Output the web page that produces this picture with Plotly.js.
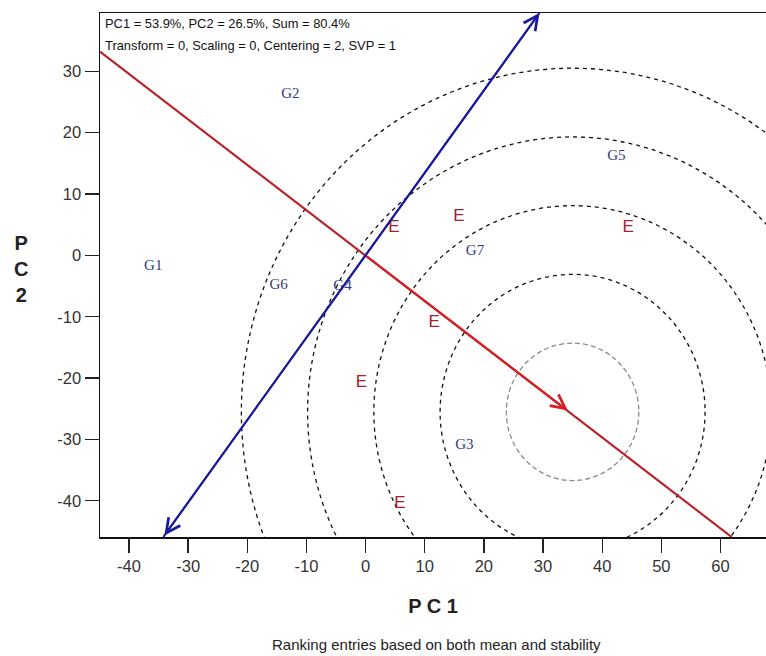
<!DOCTYPE html>
<html>
<head>
<meta charset="utf-8">
<script src="https://cdn.plot.ly/plotly-3.0.1.min.js"></script>
<style>html,body{margin:0;padding:0;background:#fff;overflow:hidden;}#chart{width:766px;height:656px;}</style>
</head>
<body>
<div id="chart"></div>
<script>
// Genotype labels (PC1, PC2)
const genoNames = ["G1", "G2", "G3", "G4", "G5", "G6", "G7"];
const genoPC1 = [-35.9, -12.7, 16.7, -3.9, 42.4, -14.7, 18.5];
const genoPC2 = [-1.8, 26.2, -31.0, -5.1, 16.1, -4.9, 0.7];

// Environment labels (PC1, PC2)
const envNames = ["E", "E", "E", "E", "E", "E"];
const envPC1 = [4.8, 15.8, 11.6, -0.7, 5.8, 44.4];
const envPC2 = [4.5, 6.3, -10.9, -20.7, -40.5, 4.5];

// Average environment axis (red) and its perpendicular (blue)
const aeaX = [-44.9, 61.9];
const aeaY = [33.2, -45.9];
const aeaTip = [34.2, -25.3];
const perpX = [-34.2, 29.4];
const perpY = [-45.9, 39.5];

// Concentric rings around the ideal point
const ringCenter = [35.0, -25.5];
const ringRadii = [11.2, 22.4, 33.6, 44.8, 56.0];

// Axis ticks
const xTicks = [-40, -30, -20, -10, 0, 10, 20, 30, 40, 50, 60];
const yTicks = [-40, -30, -20, -10, 0, 10, 20, 30];

// Header lines
const headerLines = ["PC1 = 53.9%, PC2 = 26.5%, Sum = 80.4%", "Transform = 0, Scaling = 0, Centering = 2, SVP = 1"];

const shapes = ringRadii.map((r, i) => ({
  type: "circle", xref: "x", yref: "y", layer: "below",
  x0: ringCenter[0] - r, x1: ringCenter[0] + r,
  y0: ringCenter[1] - r, y1: ringCenter[1] + r,
  line: { color: i === 0 ? "#8a8a8a" : "#111111", width: 1.3, dash: i === 0 ? "5px,3px" : "4px,4px" }
}));

const traces = [
  { x: aeaX, y: aeaY, mode: "lines", line: { color: "#b8242a", width: 2.2 }, hoverinfo: "skip" },
  { x: perpX, y: perpY, mode: "lines", line: { color: "#1a1a9e", width: 2 }, hoverinfo: "skip" },
  { x: genoPC1, y: genoPC2, text: genoNames, mode: "text",
    textfont: { family: "Liberation Serif, Times New Roman, serif", size: 15, color: "#2f3a80" } },
  { x: envPC1, y: envPC2, text: envNames, mode: "text",
    textfont: { family: "Liberation Sans, Arial, sans-serif", size: 17, color: "#a3202e" } }
];

const headerAnn = headerLines.map((t, i) => ({
  xref: "paper", yref: "paper", x: 0.004, y: 1 - (11 + 21 * i) / 524, xanchor: "left", yanchor: "middle",
  align: "left", showarrow: false, text: t, font: { size: 12.9, color: "#111" }
}));

const layout = {
  width: 766, height: 656,
  margin: { l: 100, r: 0, t: 13, b: 119 },
  paper_bgcolor: "#ffffff", plot_bgcolor: "#ffffff",
  showlegend: false,
  font: { family: "Liberation Sans, Arial, sans-serif", color: "#222" },
  xaxis: {
    range: [-44.9, 67.7], tickvals: xTicks, ticktext: xTicks.map(String),
    showgrid: false, zeroline: false, showline: true, mirror: true,
    linecolor: "#111", linewidth: 1.5, ticks: "outside", ticklen: 14, tickwidth: 1.3, tickcolor: "#222",
    tickfont: { size: 16.5, color: "#333" },
    title: { text: "<b>P C 1</b>", font: { size: 20, color: "#222" }, standoff: 24 }
  },
  yaxis: {
    range: [-45.9, 39.5], tickvals: yTicks, ticktext: yTicks.map(String),
    showgrid: false, zeroline: false, showline: true, mirror: false,
    linecolor: "#111", linewidth: 1.5, ticks: "outside", ticklen: 14, tickwidth: 1.3, tickcolor: "#222",
    tickfont: { size: 16.5, color: "#333" }
  },
  shapes: shapes,
  annotations: [
    { xref: "x", yref: "y", axref: "x", ayref: "y", x: aeaTip[0], y: aeaTip[1], ax: 0, ay: 0,
      text: "", showarrow: true, arrowhead: 5, arrowsize: 1.4, arrowwidth: 2, arrowcolor: "#d81e24" },
    { xref: "x", yref: "y", axref: "x", ayref: "y", x: perpX[1], y: perpY[1], ax: perpX[0], ay: perpY[0],
      text: "", showarrow: true, arrowhead: 5, startarrowhead: 5, arrowside: "end+start",
      arrowsize: 1.4, startarrowsize: 1.4, arrowwidth: 2, arrowcolor: "#1a1a9e" },
    ...headerAnn,
    { xref: "paper", yref: "paper", x: -0.118, y: 0.512, xanchor: "center", yanchor: "middle",
      showarrow: false, text: "<b>P<br>C<br>2</b>", font: { size: 20, color: "#222" } },
    { xref: "paper", yref: "paper", x: 0.506, y: -0.205, xanchor: "center", yanchor: "middle",
      showarrow: false, text: "Ranking entries based on both mean and stability",
      font: { size: 15, color: "#222" } }
  ]
};

Plotly.newPlot("chart", traces, layout, { displayModeBar: false, staticPlot: true });
</script>
</body>
</html>
